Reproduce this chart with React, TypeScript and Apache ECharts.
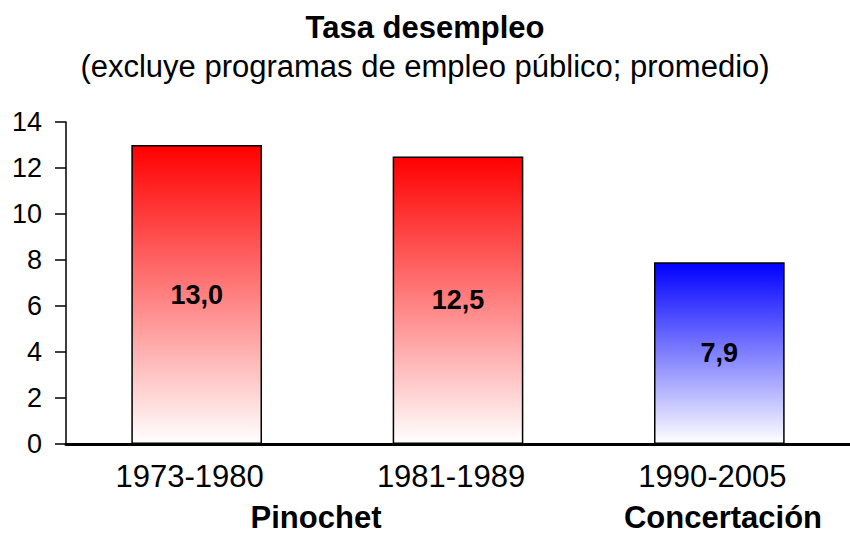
import React, { useEffect, useRef } from "react";
import * as echarts from "echarts";

const categories = ["1973-1980", "1981-1989", "1990-2005"];
const values = [13.0, 12.5, 7.9];
const topColors = ["#ff0000", "#ff0000", "#0000ff"];
const groupLabels = ["Pinochet", "Concertación"];
const titleText = "Tasa desempleo";
const subtitleText = "(excluye programas de empleo público; promedio)";

export default function App() {
  const ref = useRef<HTMLDivElement>(null);
  useEffect(() => {
    const chart = echarts.init(ref.current!, null, { renderer: "svg" });
    const font = "Liberation Sans, Arial, sans-serif";
    chart.setOption({
      animation: false,
      backgroundColor: "#fff",
      title: [
        {
          text: titleText,
          left: "center",
          top: 7,
          textStyle: { fontFamily: font, fontSize: 31, fontWeight: "bold", color: "#000", lineHeight: 31 },
        },
        {
          text: subtitleText,
          left: "center",
          top: 46,
          textStyle: { fontFamily: font, fontSize: 31, fontWeight: "normal", color: "#000", lineHeight: 31 },
        },
      ],
      grid: { left: 66, right: 0, top: 122, bottom: 91 },
      xAxis: {
        type: "category",
        data: categories,
        axisLine: { lineStyle: { color: "#000", width: 3 } },
        axisTick: { show: false },
        axisLabel: {
          fontFamily: font,
          fontSize: 31,
          color: "#000",
          margin: 17,
          lineHeight: 31,
          padding: [0, 14, 0, 0],
        },
      },
      yAxis: {
        type: "value",
        min: 0,
        max: 14,
        interval: 2,
        splitLine: { show: false },
        axisLine: { show: true, lineStyle: { color: "#000", width: 1.5 } },
        axisTick: { show: true, length: 11, lineStyle: { color: "#000", width: 1.5 } },
        axisLabel: { fontFamily: font, fontSize: 27, color: "#000", margin: 24 },
      },
      series: [
        {
          type: "bar",
          barWidth: "50%",
          data: values.map((v, i) => ({
            value: v,
            itemStyle: {
              color: new echarts.graphic.LinearGradient(0, 0, 0, 1, [
                { offset: 0, color: topColors[i] },
                { offset: 1, color: "#ffffff" },
              ]),
            },
          })),
          itemStyle: { borderColor: "#000", borderWidth: 1.5 },
          label: {
            show: true,
            position: "inside",
            formatter: (p: any) => p.value.toFixed(1).replace(".", ","),
            fontFamily: font,
            fontSize: 27,
            fontWeight: "bold",
            color: "#000",
          },
        },
      ],
      graphic: [
        {
          type: "text",
          x: 316,
          y: 517,
          style: {
            text: groupLabels[0],
            font: `bold 31px ${font}`,
            fill: "#000",
            align: "center",
            verticalAlign: "middle",
          },
        },
        {
          type: "text",
          x: 723,
          y: 517,
          style: {
            text: groupLabels[1],
            font: `bold 31px ${font}`,
            fill: "#000",
            align: "center",
            verticalAlign: "middle",
          },
        },
      ],
    });
    return () => chart.dispose();
  }, []);
  return <div ref={ref} style={{ width: 850, height: 535, position: "absolute", left: 0, top: 0 }} />;
}
